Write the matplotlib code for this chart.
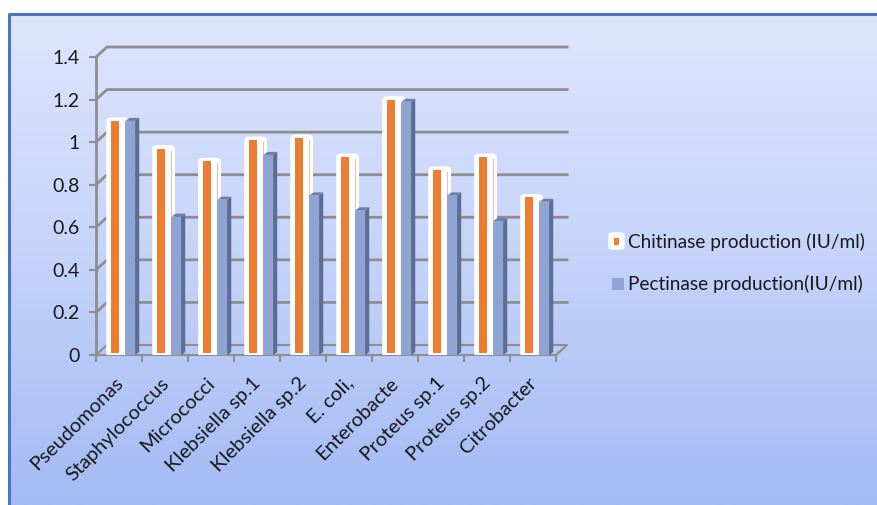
#!/usr/bin/env python3
"""Chitinase vs pectinase production per isolate, pseudo-3D column chart."""

import matplotlib
matplotlib.use("Agg")
import matplotlib.pyplot as plt
import matplotlib.transforms as mtransforms
import numpy as np
from matplotlib.patches import Polygon, Rectangle, FancyBboxPatch
from matplotlib.colors import LinearSegmentedColormap

isolates = ["Pseudomonas", "Staphylococcus", "Micrococci", "Klebsiella sp.1",
            "Klebsiella sp.2", "E. coli,", "Enterobacte", "Proteus sp.1",
            "Proteus sp.2", "Citrobacter"]
chitinase = [1.10, 0.97, 0.91, 1.01, 1.02, 0.93, 1.20, 0.87, 0.93, 0.74]
pectinase = [1.10, 0.65, 0.73, 0.94, 0.75, 0.68, 1.19, 0.75, 0.63, 0.72]
y_ticks = [0, 0.2, 0.4, 0.6, 0.8, 1.0, 1.2, 1.4]
y_labels = ["0", "0.2", "0.4", "0.6", "0.8", "1", "1.2", "1.4"]
series_names = ["Chitinase production (IU/ml)", "Pectinase production(IU/ml)"]

ORANGE = "#ed7d31"
BLUE = "#8fa3d5"
BLUE_SIDE = "#5d6c92"
BLUE_TOP = "#6d7ea8"
GRID = "#8e8e8e"
FONT = "Lato"

# depth offsets of the back wall / bar sides (data units)
DX, DY = 0.24, 0.047
SX, SY = 0.09, 0.014

fig = plt.figure(figsize=(8.77, 5.05), dpi=100)

# background gradient + frame
bg = fig.add_axes([0, 0, 1, 1], zorder=-10)
cmap = LinearSegmentedColormap.from_list("bg", ["#dfe6fd", "#c6d4fa", "#a3baf4"])
bg.imshow(np.linspace(0, 1, 256).reshape(-1, 1), aspect="auto", cmap=cmap,
          extent=[0, 1, 0, 1], origin="upper")
bg.set_xlim(0, 1)
bg.set_ylim(0, 1)
bg.axis("off")
bg.add_patch(Rectangle((0, 0), 8 / 877, 1, facecolor="white", zorder=2))
bg.add_patch(Rectangle((0, 1 - 13 / 505), 1, 13 / 505, facecolor="white", zorder=2))
bg.plot([8.5 / 877, 8.5 / 877, 1.01], [-0.01, 1 - 14 / 505, 1 - 14 / 505],
        color="#4a74c8", lw=2.2, zorder=3, clip_on=False)

ax = fig.add_axes([96 / 877, 150 / 505, 460 / 877, 298 / 505])
ax.set_xlim(-0.5, 9.5)
ax.set_ylim(0, 1.4)
ax.patch.set_visible(False)
for s in ax.spines.values():
    s.set_visible(False)

x0, x1 = -0.5, len(isolates) - 0.5
# back wall gridlines with depth diagonal
for t in y_ticks:
    if t == 0:
        continue
    ax.plot([x0, x0 + DX, x1 + DX], [t, t + DY, t + DY], color=GRID, lw=2,
            clip_on=False, zorder=1)
    ax.plot([x0 - 0.12, x0], [t, t], color=GRID, lw=1.5, clip_on=False, zorder=1)
# floor
ax.plot([x0 - 0.12, x1], [0, 0], color=GRID, lw=1.5, clip_on=False, zorder=1)
ax.plot([x0, x0 + DX, x1 + DX, x1], [0, DY, DY, 0], color=GRID, lw=1.5,
        clip_on=False, zorder=1)
ax.plot([x0, x0], [0, 1.4], color=GRID, lw=2, clip_on=False, zorder=1)
for k in range(len(isolates) + 1):
    ax.plot([x0 + k, x0 + k], [0, -0.03], color=GRID, lw=1.5, clip_on=False, zorder=1)

for i, (c, p) in enumerate(zip(chitinase, pectinase)):
    left = i - 0.5
    # orange bar with white glow box
    ax.add_patch(FancyBboxPatch((left + 0.26, 0.0), 0.42, c + 0.008,
                                boxstyle="round,pad=0.0,rounding_size=0.07",
                                mutation_aspect=0.12,
                                facecolor="white", edgecolor="white", lw=2.5, zorder=3))
    ax.plot([left + 0.62, left + 0.62], [0.01, c - 0.01], color="#e8c3a8", lw=0.8, zorder=3.5)
    ax.add_patch(Rectangle((left + 0.33, 0.01), 0.17, c - 0.01,
                           facecolor=ORANGE, edgecolor="none", zorder=4))
    # blue bar with side and top faces
    bx0, bx1 = left + 0.64, left + 0.85
    ax.add_patch(Polygon([(bx1, 0), (bx1 + SX, SY), (bx1 + SX, p + SY), (bx1, p)],
                         facecolor=BLUE_SIDE, edgecolor="none", zorder=5))
    ax.add_patch(Polygon([(bx0, p), (bx1, p), (bx1 + SX, p + SY), (bx0 + SX, p + SY)],
                         facecolor=BLUE_TOP, edgecolor="none", zorder=5))
    ax.add_patch(Rectangle((bx0, 0), bx1 - bx0, p, facecolor=BLUE,
                           edgecolor="none", zorder=6))

ax.set_yticks(y_ticks)
ax.set_yticklabels(y_labels, fontsize=14, family=FONT, color="#1a1a1a")
ax.tick_params(axis="y", length=0, pad=12)
ax.set_xticks(range(len(isolates)))
ax.set_xticklabels(isolates, rotation=45, ha="right", va="top",
                   rotation_mode="anchor", fontsize=14.5, family=FONT, color="#1a1a1a")
ax.tick_params(axis="x", length=0, pad=14)
shift = mtransforms.ScaledTranslation(-0.05, 0, fig.dpi_scale_trans)
for lab in ax.get_xticklabels():
    lab.set_transform(lab.get_transform() + shift)

# legend
fig.patches.append(FancyBboxPatch((609 / 877, 256 / 505), 15 / 877, 16 / 505,
                                  boxstyle="round,pad=0,rounding_size=0.004",
                                  transform=fig.transFigure, facecolor="white",
                                  edgecolor="white", zorder=5))
fig.patches.append(Rectangle((614 / 877, 260 / 505), 5 / 877, 7 / 505,
                             transform=fig.transFigure, facecolor=ORANGE, zorder=6))
fig.patches.append(Rectangle((612 / 877, 215 / 505), 12 / 877, 12 / 505,
                             transform=fig.transFigure, facecolor=BLUE, zorder=6))
fig.text(628 / 877, 263 / 505, series_names[0], fontsize=13.7, family=FONT,
         va="center", color="#1a1a1a")
fig.text(628 / 877, 221 / 505, series_names[1], fontsize=13.7, family=FONT,
         va="center", color="#1a1a1a")

fig.savefig("out.png", dpi=100)
